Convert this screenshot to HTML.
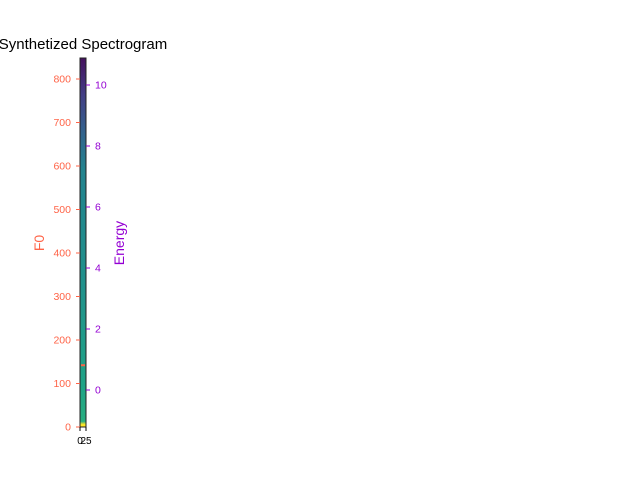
<!DOCTYPE html>
<html><head><meta charset="utf-8"><style>
body{margin:0;background:#fff;}
svg text{font-family:"Liberation Sans",sans-serif;}
</style></head><body>
<svg id="chart" width="640" height="480" xmlns="http://www.w3.org/2000/svg">
<defs><linearGradient id="spec" x1="0" y1="0" x2="0" y2="1"></linearGradient></defs>
</svg>
<script>
const f0Ticks=[0,100,200,300,400,500,600,700,800];
const energyTicks=[0,2,4,6,8,10];
const f0Values=[142];
const energyValues=[0];
const specStops=[[0,"#45115e"],[0.1,"#433e85"],[0.2,"#33628d"],[0.3,"#23838e"],[0.6,"#21918c"],[0.9,"#20a486"],[0.985,"#28ae80"],[0.993,"#fde725"],[1,"#fde725"]];
const NS="http://www.w3.org/2000/svg";
const svg=document.getElementById('chart');
const X0=80,X1=86,Y0=58,Y1=427;
const yF=v=>427-v*(348/800);
const yE=v=>390-v*30.5;
function mk(t,a,p){const e=document.createElementNS(NS,t);for(const k in a)e.setAttribute(k,a[k]);(p||svg).appendChild(e);return e;}
const g=document.getElementById('spec');
specStops.forEach(s=>{mk('stop',{offset:s[0],'stop-color':s[1]},g);});
const img=mk('rect',{x:X0,y:Y0,width:X1-X0,height:Y1-Y0,fill:'url(#spec)',stroke:'#222','stroke-width':1});


const t=mk('text',{x:83,y:49,'text-anchor':'middle','font-size':15,fill:'#000'});t.textContent='Synthetized Spectrogram';


f0Ticks.forEach(v=>{const y=yF(v);
 const l=mk('line',{x1:X0-4,x2:X0,y1:y,y2:y,stroke:'#ff6347'});
 
 
 const tx=mk('text',{x:X0-9,y:y+3.5,'text-anchor':'end','font-size':10.5,fill:'#ff6347'});tx.textContent=v;
 
 
});
energyTicks.forEach(v=>{const y=yE(v);
 const l=mk('line',{x1:X1,x2:X1+4,y1:y,y2:y,stroke:'#9400d3'});
 
 
 const tx=mk('text',{x:X1+9,y:y+3.5,'font-size':10.5,fill:'#9400d3'});tx.textContent=v;
 
 
});
f0Values.forEach(v=>{const y=yF(v);
 const r=mk('rect',{x:X0+1,y:y-1,width:X1-X0-2,height:2,fill:'#ff6347'});
 
 
});
energyValues.forEach(v=>{const y=yE(v);
 const r=mk('rect',{x:X0+1,y:y-0.5,width:X1-X0-2,height:1,fill:'#9400d3','fill-opacity':0});
 
 
});
[[X0,'0'],[X1,'25']].forEach(([x,s])=>{
 const l=mk('line',{x1:x,x2:x,y1:Y1,y2:Y1+4,stroke:'#000'});
 
 
 const tx=mk('text',{x:x,y:Y1+17,'text-anchor':'middle','font-size':10,fill:'#000'});tx.textContent=s;
 
 
});
const yl=mk('text',{x:44,y:243,'text-anchor':'middle','font-size':14,fill:'#ff6347',transform:'rotate(-90 44 243)'});yl.textContent='F0';


const el=mk('text',{x:124,y:243,'text-anchor':'middle','font-size':14,fill:'#9400d3',transform:'rotate(-90 124 243)'});el.textContent='Energy';


</script>
</body></html>
